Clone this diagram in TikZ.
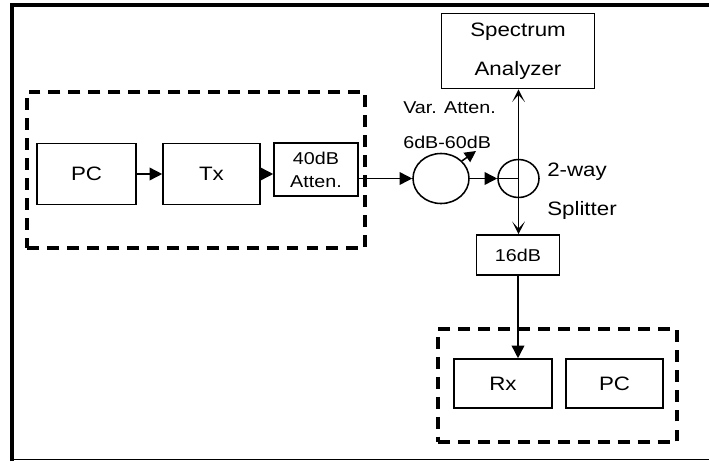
\documentclass[tikz,border=0pt]{standalone}
\usepackage{fontspec}
\setmainfont[FakeStretch=1.15]{Liberation Sans}
\usetikzlibrary{arrows.meta,positioning,shapes.geometric,calc}

\newcommand\txtbig{\fontsize{13.8}{17}\selectfont}
\newcommand\txtsmall{\fontsize{12.2}{16.4}\selectfont}

\tikzset{
  blk/.style={draw,line width=1.1pt,inner sep=0pt,align=center},
  grp/.style={draw,line width=2.8pt,dash pattern=on 8.5pt off 5.7pt,inner sep=0pt},
  att/.style={draw,ellipse,line width=1.1pt,inner sep=0pt},
  sig/.style={line width=1.1pt,-{Triangle[length=9pt,width=9pt]}},
  tap/.style={line width=1.1pt,-{Stealth[length=9pt,width=9pt,inset=5pt]}},
  lbl/.style={inner sep=0pt,anchor=west}
}

\begin{document}
\begin{tikzpicture}[x=0.025cm,y=-0.025cm,font=\txtbig]
  \useasboundingbox (0,0) rectangle (709,461);
  % frame
  \draw[line width=3pt] (11.75,461) -- (11.75,5) -- (709,5);
  \draw[line width=0.8pt] (11.75,459.3) -- (709,459.3);

  % transmitter side
  \node[grp,minimum width=8.45cm,minimum height=3.9cm] (txgrp) at (196,170) {};
  \node[blk,minimum width=2.475cm,minimum height=1.525cm] (pc1) at (86.5,174) {PC};
  \node[blk,minimum width=2.425cm,minimum height=1.525cm] (tx) at (211.5,174) {Tx};
  \node[blk,minimum width=2.1cm,minimum height=1.325cm,font=\txtsmall] (atten) at (316,169.5) {40dB\\Atten.};

  % attenuator, splitter, analyzer
  \node[att,minimum width=1.4cm,minimum height=1.25cm] (var) at (441,178.5) {};
  \node[att,minimum width=1.025cm,minimum height=0.95cm] (split) at (518.5,178.5) {};
  \coordinate (knob) at (476,151);
  \node[blk,minimum width=3.825cm,minimum height=1.875cm,font=\fontsize{13.8}{28}\selectfont] (sa) at (518,51) {Spectrum\\Analyzer};
  \node[blk,minimum width=2.075cm,minimum height=1cm,font=\txtsmall] (pad) at (518,255) {16dB};
  \node[lbl,font=\txtsmall] (varlbl) at (403,108) {Var. Atten.};
  \node[lbl,font=\txtsmall] (rangelbl) at (403,142) {6dB-60dB};
  \node[lbl] (waylbl) at (547,172) {2-way};
  \node[lbl] (splitlbl) at (547,210) {Splitter};

  % receiver side
  \node[grp,minimum width=5.975cm,minimum height=2.825cm] (rxgrp) at (557.5,385.5) {};
  \node[blk,minimum width=2.45cm,minimum height=1.225cm] (rx) at (503,383.5) {Rx};
  \node[blk,minimum width=2.425cm,minimum height=1.225cm] (pc2) at (614.5,383.5) {PC};

  % signal path
  \draw[sig] (pc1) -- (tx);
  \draw[sig] (tx.east) -- (tx.east -| atten.west);
  \draw[sig] (atten.east |- var.west) -- (var.west);
  \draw[sig] (var) -- (split.west);
  \draw[line width=1.1pt,-{Triangle[length=8pt,width=8pt]}] (var.40) -- (knob);
  \draw[line width=1.1pt] (split.west) -- (split.center);
  \draw[tap] (split.center) -- (split.center |- sa.south);
  \draw[tap] (split.center) -- (split.center |- pad.north);
  \draw[sig] (pad.south) -- (pad.south |- rx.north);
\end{tikzpicture}
\end{document}
